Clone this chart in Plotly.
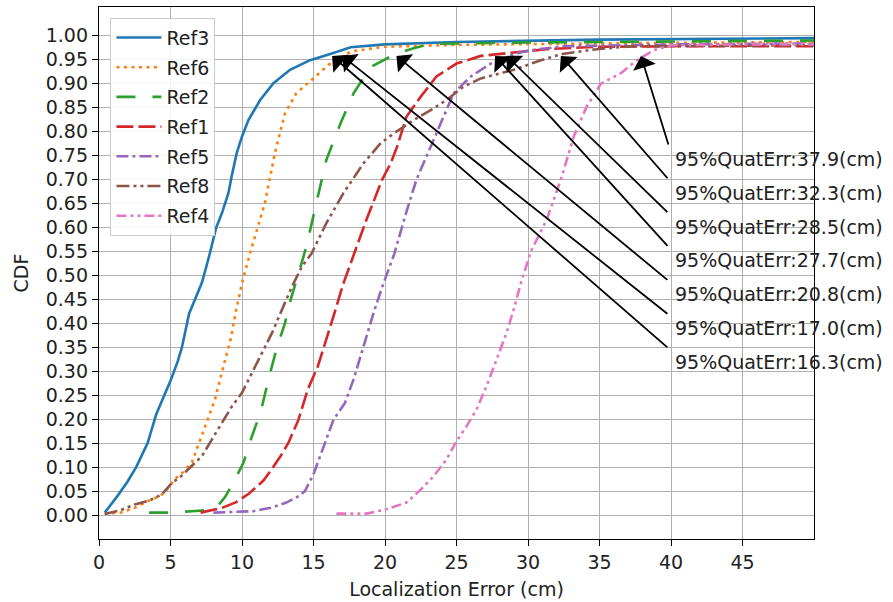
import plotly.graph_objects as go

# ---------------- data ----------------
series_names = ["Ref3", "Ref6", "Ref2", "Ref1", "Ref5", "Ref8", "Ref4"]

ref3_x = [0.4, 0.8, 1.3, 2.0, 2.6, 3.4, 4.0, 4.5, 5.0, 5.5, 5.8, 6.3, 6.8, 7.2, 7.7, 8.2, 8.6, 9.05, 9.3, 9.63, 10.0, 10.45, 11.27, 12.2, 13.36, 14.76, 16.28, 17.6, 20.0, 25.0, 35.0, 50.0]
ref3_y = [0.005, 0.02, 0.04, 0.07, 0.10, 0.15, 0.21, 0.245, 0.28, 0.32, 0.35, 0.42, 0.455, 0.485, 0.54, 0.60, 0.63, 0.672, 0.71, 0.755, 0.79, 0.824, 0.866, 0.901, 0.929, 0.949, 0.963, 0.976, 0.982, 0.987, 0.992, 0.995]

ref6_x = [0.4, 1.5, 2.5, 3.5, 4.3, 4.8, 5.3, 5.9, 6.5, 7.0, 7.4, 8.1, 8.7, 9.2, 9.6, 10.0, 10.6, 11.1, 11.6, 12.3, 13.0, 13.8, 15.0, 16.2, 17.0, 17.6, 19.9, 25.0, 35.0, 50.0]
ref6_y = [0.003, 0.005, 0.015, 0.03, 0.04, 0.055, 0.075, 0.09, 0.11, 0.15, 0.185, 0.24, 0.31, 0.366, 0.429, 0.484, 0.55, 0.60, 0.651, 0.755, 0.838, 0.88, 0.911, 0.943, 0.955, 0.967, 0.977, 0.981, 0.984, 0.987]

ref2_x = [3.5, 5.0, 6.5, 7.5, 8.2, 8.8, 9.4, 10.1, 10.7, 11.3, 11.85, 12.4, 13.0, 13.4, 14.1, 14.5, 15.2, 15.9, 16.9, 17.8, 19.0, 19.7, 20.4, 20.8, 22.0, 23.2, 30.0, 40.0, 50.0]
ref2_y = [0.005, 0.005, 0.008, 0.01, 0.015, 0.037, 0.068, 0.109, 0.165, 0.214, 0.283, 0.345, 0.40, 0.449, 0.519, 0.56, 0.651, 0.741, 0.818, 0.88, 0.935, 0.946, 0.958, 0.963, 0.974, 0.983, 0.986, 0.988, 0.99]

ref1_x = [7.1, 8.6, 9.6, 10.5, 11.5, 11.9, 12.7, 13.25, 13.95, 14.6, 15.3, 15.8, 16.45, 17.1, 17.85, 18.7, 19.8, 20.4, 20.85, 21.5, 22.5, 23.6, 25.0, 26.7, 29.0, 31.3, 34.8, 40.0, 50.0]
ref1_y = [0.005, 0.015, 0.027, 0.045, 0.072, 0.088, 0.123, 0.151, 0.199, 0.262, 0.31, 0.36, 0.42, 0.484, 0.545, 0.616, 0.70, 0.734, 0.769, 0.831, 0.873, 0.915, 0.942, 0.958, 0.965, 0.972, 0.977, 0.978, 0.978]

ref5_x = [8.0, 10.8, 12.0, 13.1, 14.0, 14.4, 15.0, 15.7, 16.4, 17.2, 17.8, 18.5, 19.2, 19.9, 20.65, 21.4, 22.2, 23.2, 24.1, 24.8, 26.0, 27.4, 29.0, 30.2, 32.5, 40.0, 50.0]
ref5_y = [0.005, 0.008, 0.015, 0.026, 0.04, 0.05, 0.085, 0.144, 0.199, 0.234, 0.283, 0.352, 0.422, 0.484, 0.545, 0.623, 0.70, 0.769, 0.831, 0.88, 0.915, 0.942, 0.962, 0.97, 0.978, 0.982, 0.984]

ref8_x = [0.4, 1.5, 2.5, 3.5, 4.4, 5.1, 5.7, 6.25, 7.2, 7.9, 8.6, 9.3, 10.0, 10.7, 11.4, 12.1, 12.8, 13.5, 14.2, 14.85, 15.9, 17.1, 18.5, 19.7, 20.8, 22.0, 23.2, 24.3, 25.5, 26.7, 29.0, 30.9, 32.4, 34.8, 37.2, 45.0, 50.0]
ref8_y = [0.002, 0.01, 0.022, 0.03, 0.043, 0.067, 0.08, 0.095, 0.123, 0.158, 0.192, 0.227, 0.255, 0.297, 0.338, 0.38, 0.429, 0.477, 0.519, 0.545, 0.609, 0.672, 0.734, 0.776, 0.80, 0.824, 0.845, 0.866, 0.894, 0.911, 0.929, 0.949, 0.962, 0.972, 0.978, 0.98, 0.98]

ref4_x = [16.6, 18.7, 20.1, 21.5, 22.5, 23.4, 24.3, 25.0, 25.7, 26.4, 27.1, 27.8, 28.5, 29.0, 29.5, 30.2, 31.3, 32.3, 33.2, 34.1, 35.1, 36.5, 37.6, 38.8, 40.0, 45.0, 50.0]
ref4_y = [0.003, 0.003, 0.012, 0.026, 0.053, 0.081, 0.116, 0.154, 0.185, 0.22, 0.269, 0.324, 0.38, 0.429, 0.484, 0.55, 0.616, 0.70, 0.79, 0.852, 0.90, 0.922, 0.949, 0.97, 0.98, 0.982, 0.982]

# 95% quantile errors (annotation order, top to bottom)
quant_values = [37.9, 32.3, 28.5, 27.7, 20.8, 17.0, 16.3]
quant_level = 0.958

x_ticks = [0, 5, 10, 15, 20, 25, 30, 35, 40, 45]
y_ticks = [round(i * 0.05, 2) for i in range(21)]

# ---------------- styles ----------------
colors = ["#1f77b4", "#ff7f0e", "#2ca02c", "#d62728", "#9467bd", "#8c564b", "#e377c2"]
dashes = ["solid", "3px,4.5px", "19px,17px", "17px,5px", "12px,4px,3px,4px",
          "13px,4px,3px,4px,3px,4px", "10px,4px,3px,4px,3px,4px"]
xs = [ref3_x, ref6_x, ref2_x, ref1_x, ref5_x, ref8_x, ref4_x]
ys = [ref3_y, ref6_y, ref2_y, ref1_y, ref5_y, ref8_y, ref4_y]

FONT = "DejaVu Sans"
fig = go.Figure()
for i, name in enumerate(series_names):
    fig.add_trace(go.Scatter(
        x=xs[i], y=ys[i], mode="lines", name=name,
        legendgroup=name,
        line=dict(color=colors[i], width=2.6, dash=dashes[i]),
    ))

# annotations: text + arrows
text_y0 = 0.743
text_step = 0.0705
for k, v in enumerate(quant_values):
    ty = text_y0 - k * text_step
    fig.add_annotation(
        x=40.17, y=ty, xref="x", yref="y", text=f"95%QuatErr:{v:.1f}(cm)",
        showarrow=False, xanchor="left", yanchor="middle",
        font=dict(family=FONT, size=19, color="#222222"),
    )
    fig.add_annotation(
        x=v, y=quant_level, xref="x", yref="y",
        ax=39.85, ay=ty + 0.027, axref="x", ayref="y",
        text="", showarrow=True, arrowhead=1, arrowsize=2.2,
        arrowwidth=1.8, arrowcolor="black", standoff=0,
    )

axis_common = dict(
    showline=True, linecolor="black", linewidth=1.3, mirror=True,
    ticks="outside", ticklen=6, tickwidth=1.2, tickcolor="black",
    showgrid=True, gridcolor="#b0b0b0", gridwidth=1.1, zeroline=False,
    tickfont=dict(family=FONT, size=19, color="#222222"),
)

fig.update_xaxes(range=[0, 50], tickvals=x_ticks,
                 title=dict(text="Localization Error (cm)", font=dict(family=FONT, size=19, color="#222222"), standoff=10),
                 **axis_common)
fig.update_yaxes(range=[-0.05, 1.06], tickvals=y_ticks, tickformat=".2f",
                 title=dict(text="CDF", font=dict(family=FONT, size=19, color="#222222"), standoff=12),
                 **axis_common)

fig.update_layout(
    width=893, height=602,
    margin=dict(l=99, r=79, t=7, b=63, autoexpand=False),
    plot_bgcolor="white", paper_bgcolor="white",
    font=dict(family=FONT, size=19, color="#222222"),
    legend=dict(
        x=0.016, y=0.98, xanchor="left", yanchor="top",
        bgcolor="rgba(255,255,255,0.85)", bordercolor="#cccccc", borderwidth=1,
        font=dict(family=FONT, size=19, color="#222222"),
        tracegroupgap=2, traceorder="grouped", itemwidth=45,
    ),
    showlegend=True,
)

fig.write_html("out.html")
